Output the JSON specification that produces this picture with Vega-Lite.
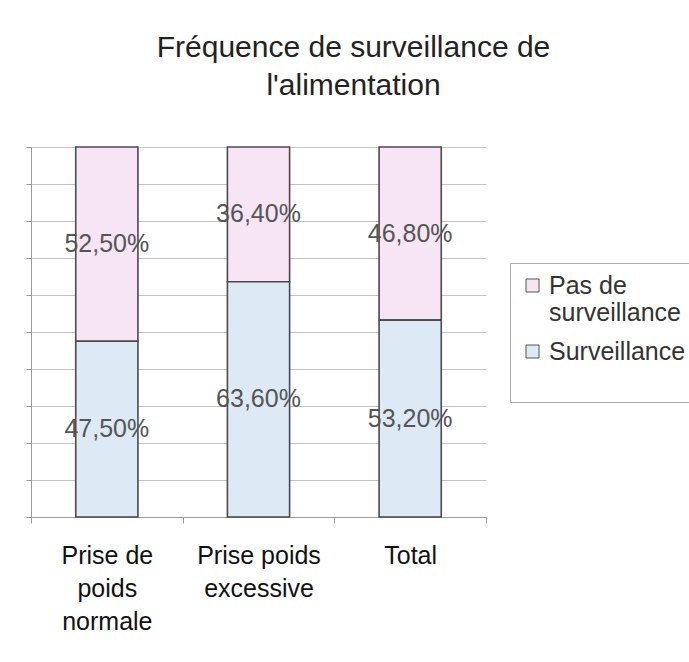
{
  "$schema": "https://vega.github.io/schema/vega-lite/v6.json",
  "width": 455,
  "height": 370,
  "autosize": {"type": "none"},
  "padding": {"left": 31, "top": 147, "right": 203, "bottom": 145},
  "background": "white",
  "config": {
    "locale": {"number": {"decimal": ",", "thousands": " ", "grouping": [3], "currency": ["", " €"]}},
    "view": {"stroke": null},
    "font": "Liberation Sans"
  },
  "title": {
    "text": ["Fréquence de surveillance de", "l'alimentation"],
    "fontSize": 30,
    "font": "Liberation Sans",
    "fontWeight": "normal",
    "color": "#222222",
    "anchor": "middle",
    "frame": "group",
    "dx": 95,
    "lineHeight": 38,
    "baseline": "top",
    "offset": 45
  },
  "data": {
    "values": [
      {"categorie": "Prise de poids normale", "statut": "Pas de surveillance", "valeur": 0.525},
      {"categorie": "Prise de poids normale", "statut": "Surveillance", "valeur": 0.475},
      {"categorie": "Prise poids excessive", "statut": "Pas de surveillance", "valeur": 0.364},
      {"categorie": "Prise poids excessive", "statut": "Surveillance", "valeur": 0.636},
      {"categorie": "Total", "statut": "Pas de surveillance", "valeur": 0.468},
      {"categorie": "Total", "statut": "Surveillance", "valeur": 0.532}
    ]
  },
  "encoding": {
    "x": {
      "field": "categorie",
      "type": "nominal",
      "sort": null,
      "title": null,
      "scale": {"paddingInner": 0, "paddingOuter": 0},
      "axis": {
        "tickBand": "extent",
        "labelAngle": 0,
        "labelFontSize": 25,
        "labelFont": "Liberation Sans",
        "labelColor": "#111111",
        "labelLineHeight": 33,
        "labelBaseline": "top",
        "labelPadding": 20,
        "labelLimit": 0,
        "tickSize": 6,
        "tickColor": "#999999",
        "domainColor": "#999999",
        "labelExpr": "datum.value == 'Prise de poids normale' ? ['Prise de', 'poids', 'normale'] : datum.value == 'Prise poids excessive' ? ['Prise poids', 'excessive'] : datum.value"
      }
    },
    "y": {
      "field": "valeur",
      "type": "quantitative",
      "stack": "zero",
      "title": null,
      "scale": {"domain": [0, 1], "nice": false},
      "axis": {
        "values": [0, 0.1, 0.2, 0.3, 0.4, 0.5, 0.6, 0.7, 0.8, 0.9, 1],
        "labels": false,
        "grid": true,
        "gridColor": "#c4c4c4",
        "domainColor": "#999999",
        "tickColor": "#999999",
        "tickSize": 5
      }
    },
    "order": {"field": "statut", "sort": "descending"}
  },
  "layer": [
    {
      "mark": {"type": "bar", "width": {"band": 0.41}, "stroke": "#4a4a4a", "strokeWidth": 1.6},
      "encoding": {
        "color": {
          "field": "statut",
          "type": "nominal",
          "sort": ["Pas de surveillance", "Surveillance"],
          "scale": {"domain": ["Pas de surveillance", "Surveillance"], "range": ["#f7e5f5", "#dee9f6"]},
          "legend": {
            "title": null,
            "orient": "none",
            "legendX": 479,
            "legendY": 116,
            "strokeColor": "#aaaaaa",
            "fillColor": "white",
            "padding": 10,
            "labelFontSize": 25,
            "labelFont": "Liberation Sans",
            "labelColor": "#333333",
            "labelLineHeight": 30,
            "labelLimit": 0,
            "labelOffset": 4,
            "symbolType": "square",
            "symbolSize": 169,
            "symbolStrokeColor": "#555555",
            "symbolStrokeWidth": 1,
            "rowPadding": 13,
            "labelExpr": "datum.value == 'Pas de surveillance' ? ['Pas de', 'surveillance'] : ['Surveillance', '']"
          }
        }
      }
    },
    {
      "mark": {"type": "text", "fontSize": 25, "font": "Liberation Sans", "color": "#555555", "baseline": "middle"},
      "encoding": {
        "y": {"field": "valeur", "type": "quantitative", "stack": "zero", "bandPosition": 0.5},
        "detail": {"field": "statut"},
        "text": {"field": "valeur", "type": "quantitative", "format": ".2%"}
      }
    }
  ]
}
